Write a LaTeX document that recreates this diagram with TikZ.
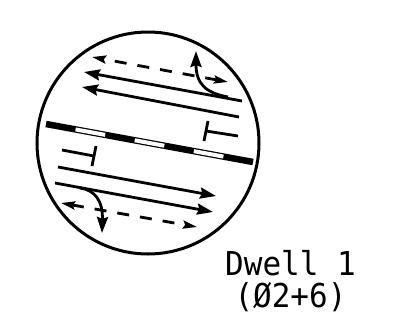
\documentclass[tikz,border=0pt]{standalone}
\usepackage{fontspec}
\setmonofont{DejaVu Sans Mono}
\usetikzlibrary{arrows.meta,calc}

\tikzset{
  lane/.style={line width=2.8pt,line cap=butt},
  tip/.style={-{Stealth[length=16pt,width=11pt,inset=2pt]}},
  tiptwo/.style={{Stealth[length=14pt,width=8pt,inset=2pt]}-{Stealth[length=14pt,width=8pt,inset=2pt]}},
  dwell/.style={font=\ttfamily\fontsize{31}{30}\selectfont,align=center,inner sep=0pt,yscale=1.06,transform shape}
}

\begin{document}
\begin{tikzpicture}[x=1pt,y=-1pt]
    \useasboundingbox (0,0) rectangle (394,333);
    \draw[line width=3pt] (148,143) circle (111);
    % median
    \coordinate (medianA) at (46,124);
    \coordinate (medianB) at (253,162);
    \draw[line width=6.5pt] (medianA) -- (medianB);
    \foreach \i in {1,3,5}
      \draw[white,line width=4pt] ($(medianA)!\i/7!(medianB)$) -- ($(medianA)!\i/7+1/7!(medianB)$);
    % upper lanes
    \draw[lane,tip] (242,101) -- (84,72);
    \draw[lane,tip] (239,117) -- (82,87);
    \draw[lane,tiptwo,dash pattern=on 12pt off 11pt] (228,82) -- (92,57);
    \draw[lane,tip] (228,97) .. controls (206,93) and (196,84) .. (196,51);
    \draw[lane] (208,121) -- (204,141);
    \draw[lane] (206,131) -- (238,136);
    % lower lanes
    \draw[lane,tip] (58,167) -- (216,196);
    \draw[lane,tip] (55,183) -- (213,212);
    \draw[lane,tiptwo,dash pattern=on 12pt off 11pt] (61,203) -- (197,227);
    \draw[lane,tip] (80,188) .. controls (95,190) and (103,201) .. (102,233);
    \draw[lane] (96,146) -- (92,166);
    \draw[lane] (62,150) -- (94,156);
    \node[dwell] (label) at (290.5,281) {Dwell 1\\(Ø2+6)};
\end{tikzpicture}
\end{document}
